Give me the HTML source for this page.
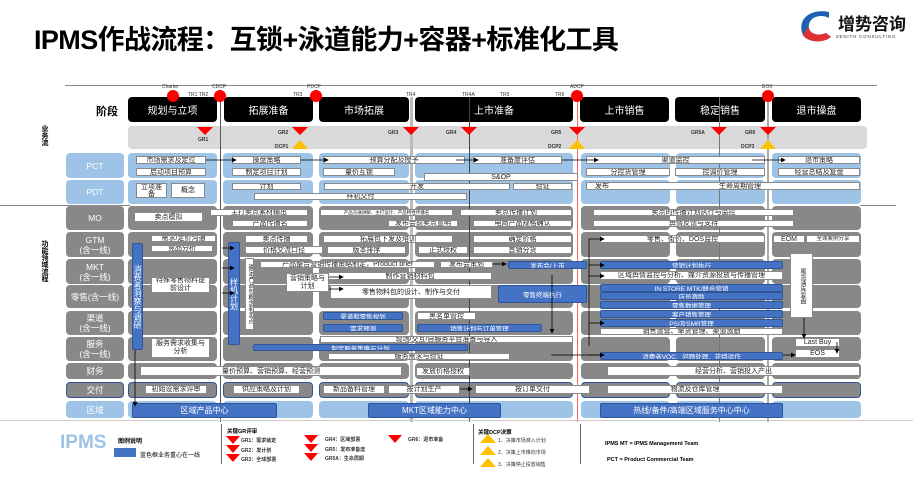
<!DOCTYPE html>
<html><head><meta charset="utf-8"><style>
*{margin:0;padding:0;box-sizing:border-box}
body{width:913px;height:487px;background:#fff;position:relative;overflow:hidden;font-family:"Liberation Sans","Noto Sans CJK SC",sans-serif}
.a{position:absolute}
.w{position:absolute;background:#fff;border:1px solid #8a8a8a;font-size:7px;text-align:center;white-space:nowrap;overflow:hidden;color:#222;line-height:7px;display:flex;align-items:center;justify-content:center}
.bl{position:absolute;background:#4472c4;border:1px solid #2f5597;color:#fff;font-size:6.5px;text-align:center;white-space:nowrap;overflow:hidden;display:flex;align-items:center;justify-content:center;border-radius:2px}
.col{position:absolute;top:0;height:420px}
.col i{position:absolute;left:0;right:0;border-radius:4px;background:#888}
.pc{top:153px;height:25px;background:#9dc3e6!important}
.pd{top:180px;height:24px;background:#9dc3e6!important}
.mo{top:206px;height:24px}.gt{top:232px;height:25px}.mk{top:259px;height:25px}.ls{top:285px;height:23px}
.qd{top:311px;height:24px}.fw{top:337px;height:24px}.cw{top:363px;height:16px}.jf{top:382px;height:16px;border:1px solid #2f5597}
.rg{top:401px;height:17px;background:#9dc3e6!important}
.lab{position:absolute;left:66px;width:58px;color:#fff;font-size:8.5px;text-align:center;display:flex;align-items:center;justify-content:center;line-height:10px;border-radius:4px;background:#888}
.stg{position:absolute;top:97px;height:25px;background:#000;color:#fff;font-size:10px;border-radius:4px;display:flex;align-items:center;justify-content:center}
.dot{position:absolute;width:12px;height:12px;border-radius:50%;background:#f00;top:90px}
.tl{position:absolute;font-size:5px;color:#333}
.gr{position:absolute;width:0;height:0;border-left:8px solid transparent;border-right:8px solid transparent;border-top:8px solid #f00;top:127px}
.dc{position:absolute;width:0;height:0;border-left:8px solid transparent;border-right:8px solid transparent;border-bottom:9px solid #ffc000;top:140px}
.gl{position:absolute;font-size:5px;font-weight:bold;color:#333}
.vl{position:absolute;top:97px;height:325px;width:1px}
.v{writing-mode:vertical-rl;line-height:9px}
</style></head><body>
<div class="a" style="left:34px;top:18px;font-size:27px;font-weight:bold;color:#000;letter-spacing:-0.6px">IPMS作战流程：互锁+泳道能力+容器+标准化工具</div>
<svg class="a" style="left:795px;top:8px" width="42" height="36"><path d="M34 4 C12 0 2 14 8 27 C12 34 27 36 36 29 L31 25 C22 29 12 25 14 16 C16 8 27 6 34 10 Z" fill="#1f5fb0"/><path d="M8 27 C12 34 27 36 36 29 L31 25 C22 29 14 25 13 19 Z" fill="#e03030"/></svg>
<div class="a" style="left:838px;top:10px;font-size:17px;font-weight:bold;color:#111">增势咨询</div>
<div class="a" style="left:836px;top:34px;font-size:4.5px;letter-spacing:0.8px;color:#333">ZENITH CONSULTING</div>

<div class="a" style="left:65px;top:85px;width:812px;height:1px;background:#888"></div>
<div class="a" style="left:96px;top:103px;font-size:11px;font-weight:bold">阶段</div>
<div class="a v" style="left:40px;top:125px;font-size:7px;font-weight:bold">业务流</div>
<div class="a v" style="left:40px;top:240px;font-size:7px;font-weight:bold">功能领域流程</div>

<div class="stg" style="left:128px;width:89px">规划与立项</div>
<div class="stg" style="left:224px;width:89px">拓展准备</div>
<div class="stg" style="left:319px;width:90px">市场拓展</div>
<div class="stg" style="left:415px;width:158px">上市准备</div>
<div class="stg" style="left:580px;width:89px">上市销售</div>
<div class="stg" style="left:675px;width:90px">稳定销售</div>
<div class="stg" style="left:772px;width:89px">退市操盘</div>

<div class="a" style="left:128px;top:126px;width:739px;height:23px;background:#d9d9d9;border-radius:4px"></div>

<div class="col" style="left:128px;width:89px"><i class="pc"></i><i class="pd"></i><i class="mo"></i><i class="gt"></i><i class="mk"></i><i class="ls"></i><i class="qd"></i><i class="fw"></i><i class="cw"></i><i class="jf"></i><i class="rg"></i></div>
<div class="col" style="left:223px;width:90px"><i class="pc"></i><i class="pd"></i><i class="mo"></i><i class="gt"></i><i class="mk"></i><i class="ls"></i><i class="qd"></i><i class="fw"></i><i class="cw"></i><i class="jf"></i><i class="rg"></i></div>
<div class="col" style="left:319px;width:90px"><i class="pc"></i><i class="pd"></i><i class="mo"></i><i class="gt"></i><i class="mk"></i><i class="ls"></i><i class="qd"></i><i class="fw"></i><i class="cw"></i><i class="jf"></i><i class="rg"></i></div>
<div class="col" style="left:415px;width:158px"><i class="pc"></i><i class="pd"></i><i class="mo"></i><i class="gt"></i><i class="mk"></i><i class="ls"></i><i class="qd"></i><i class="fw"></i><i class="cw"></i><i class="jf"></i><i class="rg"></i></div>
<div class="col" style="left:581px;width:89px"><i class="pc"></i><i class="pd"></i><i class="mo"></i><i class="gt"></i><i class="mk"></i><i class="ls"></i><i class="qd"></i><i class="fw"></i><i class="cw"></i><i class="jf"></i><i class="rg"></i></div>
<div class="col" style="left:676px;width:89px"><i class="pc"></i><i class="pd"></i><i class="mo"></i><i class="gt"></i><i class="mk"></i><i class="ls"></i><i class="qd"></i><i class="fw"></i><i class="cw"></i><i class="jf"></i><i class="rg"></i></div>
<div class="col" style="left:772px;width:89px"><i class="pc"></i><i class="pd"></i><i class="mo"></i><i class="gt"></i><i class="mk"></i><i class="ls"></i><i class="qd"></i><i class="fw"></i><i class="cw"></i><i class="jf"></i><i class="rg"></i></div>

<div class="lab" style="top:153px;height:25px;background:#9dc3e6">PCT</div>
<div class="lab" style="top:180px;height:24px;background:#9dc3e6">PDT</div>
<div class="lab" style="top:206px;height:24px">MO</div>
<div class="lab" style="top:232px;height:25px">GTM<br>(含一线)</div>
<div class="lab" style="top:259px;height:25px">MKT<br>(含一线)</div>
<div class="lab" style="top:285px;height:23px">零售(含一线)</div>
<div class="lab" style="top:311px;height:24px">渠道<br>(含一线)</div>
<div class="lab" style="top:337px;height:24px">服务<br>(含一线)</div>
<div class="lab" style="top:363px;height:16px">财务</div>
<div class="lab" style="top:382px;height:16px;border:1px solid #2f5597">交付</div>
<div class="lab" style="top:401px;height:17px;background:#9dc3e6">区域</div>
<div class="a" style="left:0;top:205px;width:130px;height:1px;background:#888"></div>
<div class="a" style="left:860px;top:205px;width:36px;height:1px;background:#888"></div>

<div class="vl" style="left:220px;background:#555"></div>
<div class="vl" style="left:410px;width:3px;background:#bbb"></div>
<div class="vl" style="left:469px;background:#444"></div>
<div class="vl" style="left:577px;background:#f66"></div>
<div class="vl" style="left:719px;background:#777"></div>
<div class="vl" style="left:767px;width:2px;background:#aaa"></div>

<div class="dot" style="left:167px"></div><div class="tl" style="left:162px;top:84px">Charter</div>
<div class="dot" style="left:214px"></div><div class="tl" style="left:212px;top:84px">CDCP</div>
<div class="dot" style="left:310px"></div><div class="tl" style="left:307px;top:84px">PDCP</div>
<div class="dot" style="left:571px"></div><div class="tl" style="left:570px;top:84px">ADCP</div>
<div class="dot" style="left:762px"></div><div class="tl" style="left:762px;top:84px">EOX</div>
<div class="tl" style="left:188px;top:92px">TR1 TR2</div>
<div class="tl" style="left:293px;top:92px">TR3</div>
<div class="tl" style="left:406px;top:92px">TR4</div>
<div class="tl" style="left:462px;top:92px">TR4A</div>
<div class="tl" style="left:500px;top:92px">TR5</div>
<div class="tl" style="left:555px;top:92px">TR6</div>

<div class="gr" style="left:197px"></div><div class="gl" style="left:198px;top:137px">GR1</div>
<div class="gr" style="left:292px"></div><div class="gl" style="left:278px;top:130px">GR2</div>
<div class="gr" style="left:403px"></div><div class="gl" style="left:388px;top:130px">GR3</div>
<div class="gr" style="left:461px"></div><div class="gl" style="left:446px;top:130px">GR4</div>
<div class="gr" style="left:569px"></div><div class="gl" style="left:551px;top:130px">GR5</div>
<div class="gr" style="left:711px"></div><div class="gl" style="left:691px;top:130px">GR5A</div>
<div class="gr" style="left:760px"></div><div class="gl" style="left:745px;top:130px">GR6</div>
<div class="dc" style="left:292px"></div><div class="gl" style="left:275px;top:144px">DCP1</div>
<div class="dc" style="left:569px"></div><div class="gl" style="left:548px;top:144px">DCP2</div>
<div class="dc" style="left:760px"></div><div class="gl" style="left:741px;top:144px">DCP3</div>

<div class="w" style="left:136px;top:156px;width:70px;height:8px">市场需求及定位</div>
<div class="w" style="left:136px;top:168px;width:70px;height:8px">启动项目预算</div>
<div class="w" style="left:232px;top:156px;width:69px;height:8px">操盘策略</div>
<div class="w" style="left:232px;top:168px;width:69px;height:8px">制定项目计划</div>
<div class="w" style="left:323px;top:156px;width:142px;height:8px">预算分配及授予</div>
<div class="w" style="left:473px;top:156px;width:89px;height:8px">准备度评估</div>
<div class="w" style="left:323px;top:168px;width:72px;height:8px">量价互锁</div>
<div class="w" style="left:424px;top:173px;width:154px;height:8px">S&amp;OP</div>
<div class="w" style="left:586px;top:156px;width:179px;height:8px">渠道监控</div>
<div class="w" style="left:586px;top:168px;width:84px;height:8px">分控货管理</div>
<div class="w" style="left:675px;top:168px;width:90px;height:8px">控调价管理</div>
<div class="w" style="left:778px;top:156px;width:82px;height:8px">退市策略</div>
<div class="w" style="left:778px;top:168px;width:82px;height:8px">经营总结及复盘</div>
<div class="w" style="left:136px;top:183px;width:31px;height:15px;line-height:7px">立项准<br>备</div>
<div class="w" style="left:171px;top:183px;width:34px;height:15px">概念</div>
<div class="w" style="left:232px;top:183px;width:69px;height:7px">计划</div>
<div class="w" style="left:324px;top:183px;width:186px;height:7px">开发</div>
<div class="w" style="left:513px;top:183px;width:59px;height:7px">验证</div>
<div class="w" style="left:254px;top:193px;width:213px;height:7px">样机交付</div>
<div class="w" style="left:586px;top:182px;width:274px;height:8px;justify-content:flex-start;padding-left:8px">发布<span style="margin-left:110px">生命周期管理</span></div>

<div class="w" style="left:134px;top:212px;width:69px;height:10px">卖点模拟</div>
<div class="w" style="left:210px;top:209px;width:98px;height:7px">主打卖点素材输出</div>
<div class="w" style="left:232px;top:220px;width:76px;height:7px">产品传播名</div>
<div class="w" style="left:320px;top:209px;width:133px;height:7px;font-size:4.5px">产品沟通讲解、主打设计、产品特性传播名</div>
<div class="w" style="left:388px;top:220px;width:70px;height:7px">发布会前卖点宣明</div>
<div class="w" style="left:460px;top:209px;width:112px;height:7px">卖点传播计划</div>
<div class="w" style="left:473px;top:220px;width:99px;height:7px">电商产品规格确认</div>
<div class="w" style="left:593px;top:209px;width:201px;height:7px">卖点的传播计划执行与监控</div>
<div class="w" style="left:593px;top:220px;width:201px;height:7px">舆情反馈与支持</div>

<div class="w" style="left:151px;top:235px;width:65px;height:7px">需求/定价沟通</div>
<div class="w" style="left:151px;top:245px;width:62px;height:7px">竞品分析</div>
<div class="w" style="left:245px;top:235px;width:63px;height:8px">卖点传播</div>
<div class="w" style="left:245px;top:246px;width:78px;height:8px">价格交流口径</div>
<div class="w" style="left:323px;top:235px;width:130px;height:8px">拓展包下发及培训</div>
<div class="w" style="left:327px;top:246px;width:79px;height:8px">版本排序</div>
<div class="w" style="left:418px;top:246px;width:50px;height:8px">正式授权</div>
<div class="w" style="left:473px;top:235px;width:99px;height:8px">确定价格</div>
<div class="w" style="left:473px;top:246px;width:99px;height:8px">首销分货</div>
<div class="w" style="left:600px;top:235px;width:165px;height:8px">零售、街价、DOS监控</div>
<div class="w" style="left:773px;top:235px;width:32px;height:8px">EOM</div>
<div class="w" style="left:806px;top:235px;width:54px;height:8px;font-size:5.5px">全球案例分享</div>

<div class="bl v" style="left:132px;top:243px;width:11px;height:107px;font-size:8px">消费者洞察与调研</div>
<div class="bl v" style="left:228px;top:242px;width:12px;height:103px;font-size:8px">样机计划</div>
<div class="w v" style="left:245px;top:258px;width:9px;height:72px;font-size:6px">确定产品包概念和卖点</div>
<div class="w v" style="left:790px;top:253px;width:23px;height:65px;font-size:6px">尾货清库复盘</div>

<div class="w" style="left:260px;top:261px;width:175px;height:7px">产品整合营销传播策略制定，Product brief</div>
<div class="w" style="left:440px;top:261px;width:53px;height:7px">发布会策划</div>
<div class="bl" style="left:508px;top:261px;width:79px;height:8px">发布会/上市</div>
<div class="bl" style="left:600px;top:261px;width:183px;height:8px">营销计划执行</div>
<div class="w" style="left:600px;top:271px;width:183px;height:9px">区域舆情监控与分析、媒介资源投放与传播管理</div>
<div class="w" style="left:328px;top:272px;width:164px;height:8px">制作营销材料包</div>
<div class="w" style="left:286px;top:273px;width:43px;height:19px;line-height:8px">营销策略与<br>计划</div>
<div class="w" style="left:151px;top:277px;width:59px;height:16px;line-height:8px">特殊零售物料提<br>前设计</div>
<div class="w" style="left:330px;top:285px;width:162px;height:14px">零售物料包的设计、制作与交付</div>
<div class="bl" style="left:498px;top:285px;width:89px;height:18px">零售终端执行</div>
<div class="bl" style="left:600px;top:284px;width:183px;height:8px">IN STORE MTK/联合营销</div>
<div class="bl" style="left:600px;top:292px;width:183px;height:8px">店员激励</div>
<div class="bl" style="left:600px;top:301px;width:183px;height:8px">零售数据管理</div>
<div class="bl" style="left:600px;top:310px;width:183px;height:8px">客户销售管理</div>
<div class="bl" style="left:600px;top:319px;width:183px;height:8px">PSI及SMR管理</div>
<div class="w" style="left:600px;top:328px;width:183px;height:7px">销售运营、窜货管理、渠道激励</div>

<div class="bl" style="left:323px;top:312px;width:80px;height:8px">渠道和零售规划</div>
<div class="bl" style="left:323px;top:324px;width:80px;height:8px">需求预测</div>
<div class="w" style="left:417px;top:312px;width:59px;height:8px">黑名单管控</div>
<div class="bl" style="left:417px;top:324px;width:125px;height:8px">销售计划与订单管理</div>

<div class="w" style="left:151px;top:338px;width:59px;height:20px;line-height:8px">服务需求收集与<br>分析</div>
<div class="w" style="left:320px;top:336px;width:253px;height:7px">现场/交互/自服务平台准备与导入</div>
<div class="bl" style="left:253px;top:344px;width:215px;height:7px">制定服务策略与计划</div>
<div class="w" style="left:328px;top:353px;width:182px;height:7px">服务需求与验证</div>
<div class="bl" style="left:600px;top:352px;width:183px;height:8px">消费者VOC、问题处理、花特运作</div>
<div class="w" style="left:795px;top:338px;width:45px;height:9px">Last Buy</div>
<div class="w" style="left:795px;top:349px;width:45px;height:9px">EOS</div>

<div class="w" style="left:140px;top:366px;width:262px;height:10px">量价预算、营销预算、经营预测</div>
<div class="w" style="left:416px;top:367px;width:54px;height:9px">发放价格授权</div>
<div class="w" style="left:607px;top:366px;width:253px;height:10px">经营分析、营销投入产出</div>
<div class="w" style="left:145px;top:385px;width:62px;height:9px">初始设需求评审</div>
<div class="w" style="left:233px;top:385px;width:67px;height:9px">供应策略及计划</div>
<div class="w" style="left:323px;top:385px;width:62px;height:9px">新品备料管理</div>
<div class="w" style="left:388px;top:385px;width:72px;height:9px">按计划生产</div>
<div class="w" style="left:475px;top:385px;width:115px;height:9px">按订单交付</div>
<div class="w" style="left:607px;top:385px;width:176px;height:9px">物流及仓库管理</div>

<div class="bl" style="left:132px;top:403px;width:145px;height:15px;font-size:8px">区域产品中心</div>
<div class="bl" style="left:368px;top:403px;width:133px;height:15px;font-size:8px">MKT区域能力中心</div>
<div class="bl" style="left:600px;top:403px;width:183px;height:15px;font-size:8px">热线/备件/高端区域服务中心中心</div>

<svg class="a" style="left:0;top:0" width="913" height="487">
<defs><marker id="m" markerWidth="6" markerHeight="6" refX="5" refY="3" orient="auto"><path d="M0,0 L6,3 L0,6 Z" fill="#000"/></marker></defs>
<g stroke="#000" stroke-width="0.8" fill="none" marker-end="url(#m)">
<line x1="206" y1="160" x2="236" y2="160"/><line x1="301" y1="160" x2="328" y2="160"/>
<line x1="456" y1="160" x2="478" y2="160"/><line x1="562" y1="160" x2="598" y2="160"/>
<line x1="752" y1="160" x2="785" y2="160"/>
<line x1="222" y1="248" x2="234" y2="248"/><line x1="222" y1="268" x2="234" y2="268"/><line x1="222" y1="293" x2="234" y2="293"/>
<line x1="329" y1="277" x2="343" y2="277"/><line x1="329" y1="289" x2="343" y2="289"/>
<line x1="493" y1="264" x2="506" y2="264"/>
<line x1="589" y1="265" x2="604" y2="265"/><line x1="589" y1="276" x2="604" y2="276"/><line x1="589" y1="323" x2="604" y2="323"/>
<line x1="589" y1="239" x2="604" y2="239"/><line x1="589" y1="355" x2="604" y2="355"/>
<line x1="783" y1="355" x2="795" y2="355"/>
<line x1="804" y1="318" x2="804" y2="338"/><line x1="837" y1="342" x2="837" y2="353"/>
<line x1="135" y1="350" x2="135" y2="406"/>
<polyline points="552,275 552,333 "/>
<line x1="460" y1="389" x2="472" y2="389"/>
</g>
<g stroke="#000" stroke-width="0.8" fill="none">
<line x1="589" y1="239" x2="589" y2="346"/>
<polyline points="552,354 552,355 600,355"/>
</g>
</svg>

<div class="a" style="left:0;top:420px;width:913px;height:1px;background:#ccc"></div>
<div class="a" style="left:60px;top:432px;font-size:19px;color:#9dc3e6;font-weight:bold">IPMS</div>
<div class="a" style="left:118px;top:436px;font-size:6px;font-weight:bold">图例说明</div>
<div class="a" style="left:114px;top:448px;width:22px;height:9px;background:#4472c4"></div>
<div class="a" style="left:140px;top:450px;font-size:6px">蓝色框业务重心在一线</div>
<div class="a" style="left:221px;top:424px;width:1px;height:40px;background:#666"></div>
<div class="a" style="left:473px;top:424px;width:1px;height:40px;background:#666"></div>
<div class="a" style="left:580px;top:424px;width:1px;height:40px;background:#666"></div>
<div class="a" style="left:227px;top:427px;font-size:5.5px;font-weight:bold">关键GR评审</div>
<div class="gr" style="left:226px;top:436px;border-left-width:7px;border-right-width:7px"></div><div class="gl" style="left:241px;top:437px">GR1：需求锁定</div>
<div class="gr" style="left:226px;top:445px;border-left-width:7px;border-right-width:7px"></div><div class="gl" style="left:241px;top:447px">GR2：发计划</div>
<div class="gr" style="left:226px;top:454px;border-left-width:7px;border-right-width:7px"></div><div class="gl" style="left:241px;top:456px">GR3：全球部署</div>
<div class="gr" style="left:304px;top:435px;border-left-width:7px;border-right-width:7px"></div><div class="gl" style="left:325px;top:436px">GR4：区域部署</div>
<div class="gr" style="left:304px;top:444px;border-left-width:7px;border-right-width:7px"></div><div class="gl" style="left:325px;top:446px">GR5：发布准备度</div>
<div class="gr" style="left:304px;top:453px;border-left-width:7px;border-right-width:7px"></div><div class="gl" style="left:325px;top:455px">GR5A：生命周期</div>
<div class="gr" style="left:388px;top:435px;border-left-width:7px;border-right-width:7px"></div><div class="gl" style="left:408px;top:436px">GR6：退市准备</div>
<div class="a" style="left:478px;top:428px;font-size:5.5px;font-weight:bold">关键DCP决策</div>
<div class="dc" style="left:480px;top:434px"></div><div class="gl" style="left:498px;top:437px;font-weight:normal">1、决策市场准入计划</div>
<div class="dc" style="left:480px;top:446px"></div><div class="gl" style="left:498px;top:449px;font-weight:normal">2、决策上市推向市场</div>
<div class="dc" style="left:480px;top:458px"></div><div class="gl" style="left:498px;top:461px;font-weight:normal">3、决策停止投放销售</div>
<div class="a" style="left:605px;top:441px;font-size:5.5px;font-weight:bold">IPMS MT = IPMS Management Team</div>
<div class="a" style="left:607px;top:457px;font-size:5.5px;font-weight:bold">PCT = Product Commercial Team</div>
</body></html>
